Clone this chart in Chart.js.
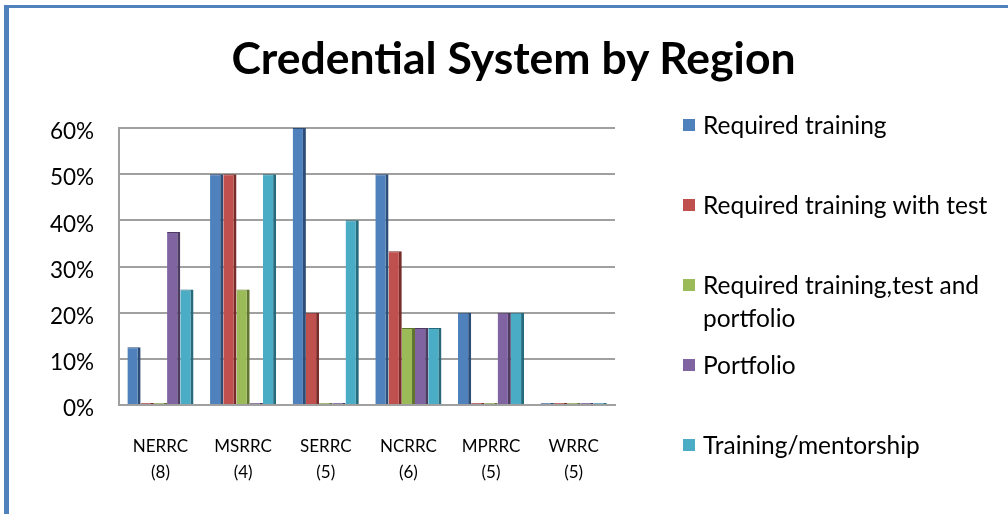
<!DOCTYPE html>
<html lang="en">

<head>
    <meta charset="UTF-8">
    <title>Credential System by Region</title>
    <script src="https://cdn.jsdelivr.net/npm/chart.js@4"></script>
    <style>
        body {
            margin: 0;
            background: #fff;
            font-family: Lato, sans-serif;
        }

        .janela {
            position: relative;
            width: 1008px;
            height: 514px;
            overflow: hidden;
        }

        .moldura {
            position: absolute;
            left: 4px;
            top: 5px;
            right: -10px;
            bottom: -10px;
            border-left: 5px solid #4f81bd;
            border-top: 3px solid #4f81bd;
            pointer-events: none;
        }

        #grafico {
            position: absolute;
            left: 0;
            top: 0;
        }

        .titulo {
            position: absolute;
            left: 0;
            top: 27px;
            width: 1027px;
            text-align: center;
            font-size: 44.5px;
            font-weight: bold;
            line-height: 60px;
            color: #000;
            margin: 0;
        }

        .legenda {
            position: absolute;
            left: 683px;
            top: 108px;
            width: 325px;
        }

        .item {
            display: flex;
            align-items: flex-start;
            height: 80px;
            font-size: 24.5px;
            line-height: 33px;
            color: #000;
        }

        .marca {
            flex: none;
            width: 12px;
            height: 12px;
            margin-top: 11px;
            margin-right: 8px;
        }

        .texto {
            width: 300px;
        }
    </style>
</head>

<body>
    <div class="janela">
        <canvas id="grafico" width="1008" height="514"></canvas>
        <h1 class="titulo">Credential System by Region</h1>
        <div class="legenda" id="legenda"></div>
        <div class="moldura"></div>
    </div>

    <script>
        // regioes (numero de estados entre parenteses)
        const regioes = [['NERRC', '(8)'], ['MSRRC', '(4)'], ['SERRC', '(5)'], ['NCRRC', '(6)'], ['MPRRC', '(5)'], ['WRRC', '(5)']];

        const series = ['Required training', 'Required training with test', 'Required training,test and portfolio', 'Portfolio', 'Training/mentorship'];

        // percentuais por regiao
        const requiredTraining = [12.5, 50, 60, 50, 20, 0];
        const requiredTrainingTest = [0, 50, 20, 33.3, 0, 0];
        const requiredTrainingTestPortfolio = [0, 25, 0, 16.7, 0, 0];
        const portfolio = [37.5, 0, 0, 16.7, 20, 0];
        const trainingMentorship = [25, 50, 40, 16.7, 20, 0];

        const ticksY = [0, 10, 20, 30, 40, 50, 60];

        const cores = ['#4f81bd', '#c0504d', '#9bbb59', '#8064a2', '#4bacc6'];
        const coresLado = ['#2c4d75', '#772c2a', '#5f7530', '#4d3b62', '#276a7c'];

        const valores = [requiredTraining, requiredTrainingTest, requiredTrainingTestPortfolio, portfolio, trainingMentorship];

        const datasets = series.map(function (nome, i) {
            return {
                label: nome,
                data: valores[i],
                backgroundColor: cores[i],
                borderColor: coresLado[i],
                borderWidth: { left: 0, right: 3, top: 1, bottom: 0 },
                borderSkipped: false,
                minBarLength: 2,
                barPercentage: 1.0,
                categoryPercentage: 0.8
            };
        });

        const grafico = new Chart(document.getElementById('grafico'), {
            type: 'bar',
            data: {
                labels: regioes,
                datasets: datasets
            },
            options: {
                responsive: false,
                animation: false,
                layout: {
                    padding: { left: 25, right: 393, top: 128, bottom: 0 }
                },
                plugins: {
                    legend: { display: false },
                    tooltip: { enabled: false },
                    title: { display: false }
                },
                scales: {
                    x: {
                        grid: { display: false, drawTicks: false },
                        border: { display: true, color: '#a0a0a0', width: 2 },
                        ticks: {
                            color: '#000',
                            padding: 29,
                            font: { family: 'Lato', size: 17, lineHeight: 1.5 },
                            maxRotation: 0
                        }
                    },
                    y: {
                        min: 0,
                        max: 60,
                        afterBuildTicks: function (scale) {
                            scale.ticks = ticksY.map(function (v) { return { value: v }; });
                        },
                        grid: { color: '#a0a0a0', lineWidth: 2, drawTicks: false },
                        border: { display: true, color: '#a0a0a0', width: 2 },
                        ticks: {
                            color: '#000',
                            padding: 25,
                            labelOffset: 4,
                            font: { family: 'Lato', size: 22.5 },
                            callback: function (v) { return v + '%'; }
                        }
                    }
                }
            }
        });

        // legenda em html
        const legenda = document.getElementById('legenda');
        grafico.data.datasets.forEach(function (ds) {
            const item = document.createElement('div');
            item.className = 'item';
            const marca = document.createElement('div');
            marca.className = 'marca';
            marca.style.background = ds.backgroundColor;
            const texto = document.createElement('div');
            texto.className = 'texto';
            texto.textContent = ds.label;
            item.appendChild(marca);
            item.appendChild(texto);
            legenda.appendChild(item);
        });

        console.log(grafico.chartArea);
    </script>
</body>

</html>
